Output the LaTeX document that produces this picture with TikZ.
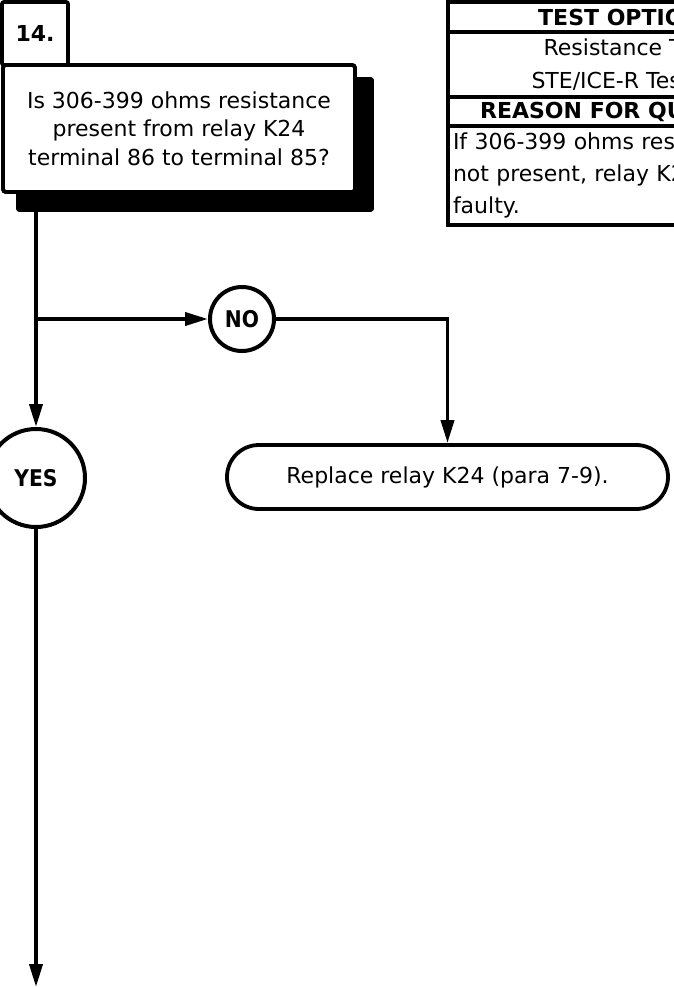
\documentclass[tikz,border=0pt]{standalone}
\usepackage{fontspec}
\setmainfont{DejaVu Sans}
\newfontfamily\labelfont{DejaVu Sans}[FakeStretch=0.88]
\usetikzlibrary{arrows.meta,calc,positioning}
\definecolor{Ink}{HTML}{000000}
\tikzset{qbox/.style={draw=Ink,fill=white,line width=3.8pt,rounded corners=3pt,align=center,inner sep=0pt,font=\fontsize{22}{28.5}\selectfont},numbox/.style={draw=Ink,fill=white,line width=3.8pt,rounded corners=2pt,inner sep=0pt,font=\fontsize{22}{26}\selectfont\bfseries},answer/.style={circle,draw=Ink,fill=white,line width=4pt,inner sep=0pt,font=\labelfont\fontsize{23}{26}\selectfont\bfseries},action/.style={draw=Ink,fill=white,line width=3.8pt,rounded corners=31.9pt,align=center,inner sep=0pt,font=\fontsize{22}{26}\selectfont},cell/.style={draw=Ink,line width=3.5pt,minimum width=360pt,inner sep=0pt,outer sep=0pt,align=center,font=\fontsize{22}{33}\selectfont},head/.style={cell,font=\fontsize{22}{26}\selectfont\bfseries},link/.style={line width=3.8pt,draw=Ink},flow/.style={link,-{Triangle[length=23pt,width=13pt]}}}

\begin{document}
\begin{tikzpicture}[x=1pt,y=-1pt]
      \useasboundingbox (0,0) rectangle (674,988);
      \clip (0,0) rectangle (674,988);
      % step number and question
      \node[numbox,minimum width=66pt,minimum height=63pt](num) at (35,33.5){14.};
      \node[qbox,minimum width=352pt,minimum height=127pt](q14) at (179,128.5){Is 306-399 ohms resistance\\present from relay K24\\terminal 86 to terminal 85?};
      \fill[Ink,rounded corners=3pt]([shift={(15,14)}]q14.north west) rectangle ([shift={(17,18)}]q14.south east);
      \node[qbox,minimum width=352pt,minimum height=127pt] at (q14){Is 306-399 ohms resistance\\present from relay K24\\terminal 86 to terminal 85?};
      % side table
      \node[head,minimum height=30pt,anchor=north](opt) at (628,2){TEST OPTIONS};
      \node[cell,minimum height=65pt,below=0pt of opt](optrow){Resistance Test\\STE/ICE-R Test 67};
      \node[head,minimum height=29pt,below=0pt of optrow](why){REASON FOR QUESTION};
      \node[cell,minimum height=99pt,below=0pt of why,text width=350pt,align=left,font=\fontsize{22}{32}\selectfont](whyrow){If 306-399 ohms resistance is\\not present, relay K24 is\\faulty.};
      % answers
      \node[answer,minimum size=64pt](no) at (242,319){NO};
      \node[answer,minimum size=98pt](yes) at (36,478){YES};
      \node[action,minimum width=441pt,minimum height=64pt](fix) at (447.5,477){Replace relay K24 (para 7-9).};
      \coordinate(split) at (yes |- no);
      \coordinate(tail) at (36,987);
      \draw[link](q14.south -| yes.north)--(split);
      \draw[flow](split)--(yes);\draw[flow](split)--(no);
      \draw[flow](no.east)-|(fix.north);
      \draw[flow](yes)--(tail);
    \end{tikzpicture}
\end{document}
